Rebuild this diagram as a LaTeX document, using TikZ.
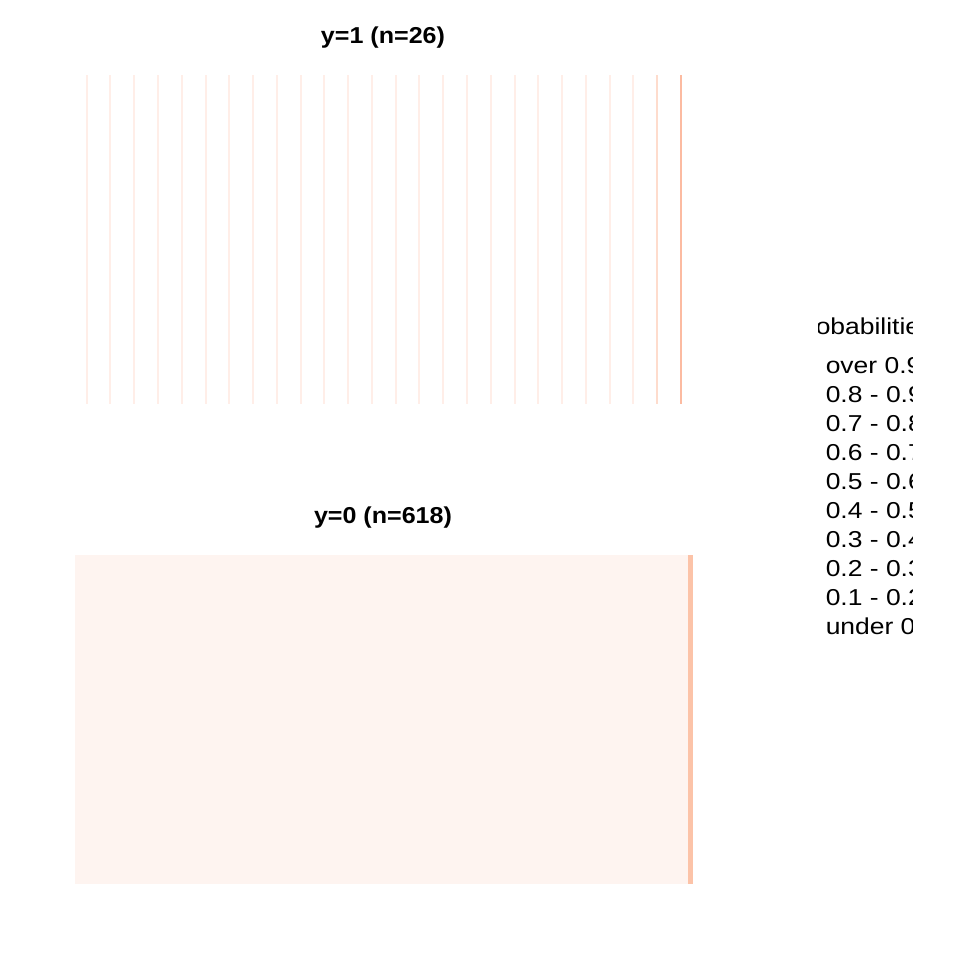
\documentclass[tikz,border=0pt]{standalone}
\usepackage{fontspec}
\setmainfont{Liberation Sans}
\definecolor{lightest}{HTML}{FFEEE8}
\definecolor{mid}{HTML}{FEDCCD}
\definecolor{dark}{HTML}{FCBBA1}
\definecolor{panelfill}{HTML}{FEF4F0}
\definecolor{stripe}{HTML}{FCC3A8}
\newcommand{\ttlfont}{\fontsize{17.25pt}{20pt}\selectfont\bfseries}
\newcommand{\legfont}{\fontsize{17.25pt}{20pt}\selectfont}
\tikzset{
  paneltitle/.style={anchor=base, inner sep=0pt},
  legtext/.style={anchor=base west, inner sep=0pt},
  stroke/.style={line width=1.5pt}
}
\begin{document}
\begin{tikzpicture}[x=0.75pt,y=-0.75pt]
\useasboundingbox (0,0) rectangle (960,960);
% top panel
\node[paneltitle] (t1) at (383,43.5) {\scalebox{1.09}[1]{\ttlfont y=1 (n=26)}};
\foreach \k in {0,...,23} {
  \draw[stroke, lightest] ({86.7+\k*23.77},75) -- ({86.7+\k*23.77},404);
}
\draw[stroke, mid] ({86.7+24*23.77},75) -- ({86.7+24*23.77},404);
\draw[stroke, dark] ({86.7+25*23.77},75) -- ({86.7+25*23.77},404);
% bottom panel
\node[paneltitle] (t0) at (383,523.5) {\scalebox{1.09}[1]{\ttlfont y=0 (n=618)}};
\fill[panelfill] (75,555) rectangle (688,884);
\fill[stripe] (688,555) rectangle (693,884);
% legend (clipped)
\begin{scope}
\clip (818,290) rectangle (912,660);
\node[legtext] (lt) at (792,334.5) {\scalebox{1.15}[1]{\legfont probabilities}};
\foreach \lab [count=\i from 0] in {over 0.9,0.8 - 0.9,0.7 - 0.8,0.6 - 0.7,0.5 - 0.6,0.4 - 0.5,0.3 - 0.4,0.2 - 0.3,0.1 - 0.2,under 0.1} {
  \node[legtext] (l\i) at (825.5,{373+\i*29.1}) {\scalebox{1.15}[1]{\legfont \lab}};
}
\end{scope}
\end{tikzpicture}
\end{document}
